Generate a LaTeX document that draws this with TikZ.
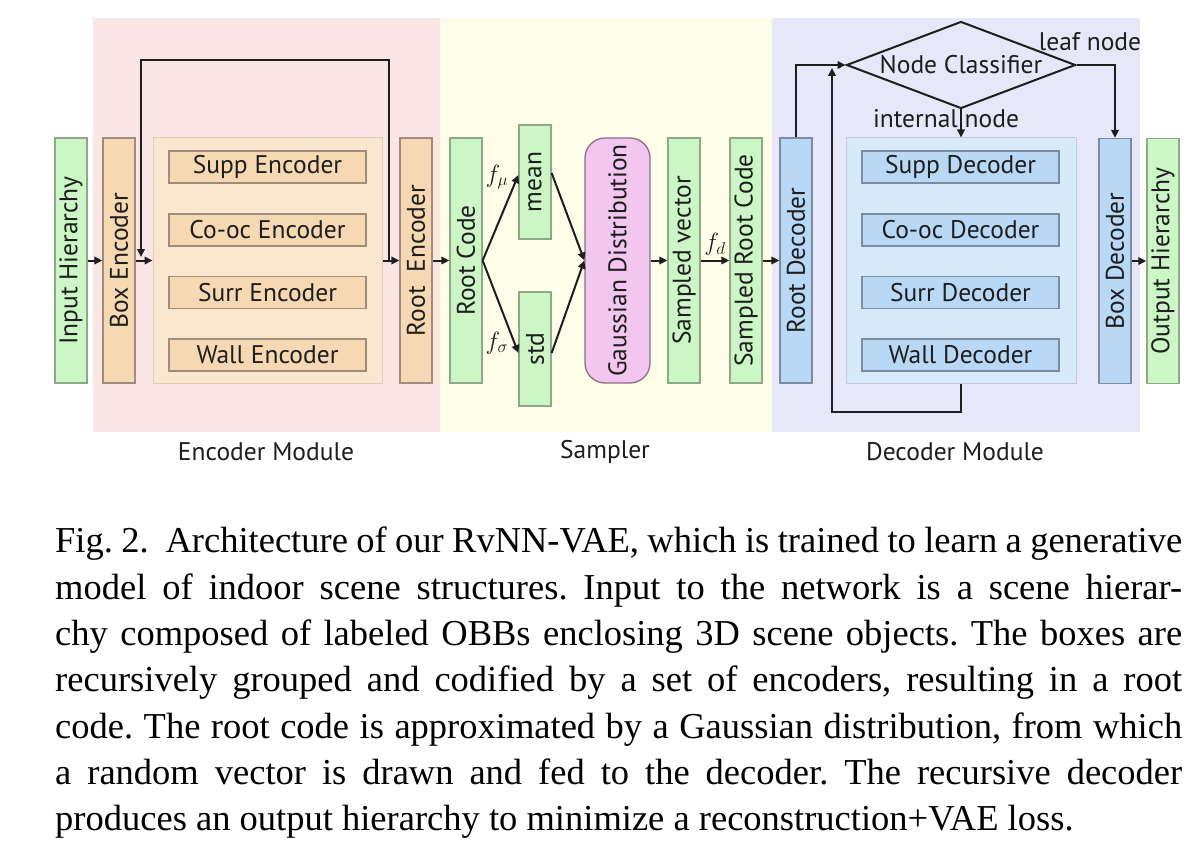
\documentclass[tikz,border=0pt]{standalone}
\usepackage{fontspec}
\setmainfont{Liberation Serif}
\newfontfamily\dfont{PT Sans}
\usetikzlibrary{shapes.geometric,arrows.meta}
\definecolor{bgenc}{HTML}{FBE6E6}
\definecolor{bgsam}{HTML}{FEFEE8}
\definecolor{bgdec}{HTML}{E6E7F8}
\definecolor{grn}{HTML}{CCF6C6}
\definecolor{grnd}{HTML}{8EA88A}
\definecolor{org}{HTML}{F6D8B2}
\definecolor{orgd}{HTML}{A08C7C}
\definecolor{peach}{HTML}{FBE6D0}
\definecolor{peachd}{HTML}{E2CDB8}
\definecolor{pnk}{HTML}{F2C6EF}
\definecolor{pnkd}{HTML}{8C6E8C}
\definecolor{blu}{HTML}{B8D8F6}
\definecolor{blud}{HTML}{7C8CA0}
\definecolor{lblu}{HTML}{D6EAFA}
\definecolor{lblud}{HTML}{C6C6E6}
\definecolor{ink}{HTML}{1E1E1E}
\begin{document}
\begin{tikzpicture}[x=1pt,y=-1pt,
  lbl/.style={font=\dfont\fontsize{25.5}{28}\selectfont, text=ink},
  blk/.style={draw=#1, line width=1.3pt, inner sep=0pt, lbl},
  vblk/.style={blk=#1, minimum width=32pt, minimum height=245pt},
  hblk/.style={blk=#1, minimum width=197pt, minimum height=32pt},
  arr/.style={-{Triangle[length=8pt,width=7.5pt]}, line width=2pt, draw=ink},
  mathlbl/.style={font=\fontsize{26}{28}\selectfont, text=ink}
]
\useasboundingbox (0,0) rectangle (1200,856);
\fill[white] (0,0) rectangle (1200,856);
% panels
\fill[bgenc] (93,18) rectangle (440,432);
\fill[bgsam] (440,18) rectangle (772,432);
\fill[bgdec] (772,18) rectangle (1140,432);
\node[lbl] (encm) at (266,452) {Encoder Module};
\node[lbl] (samm) at (605,452) {Sampler};
\node[lbl] (decm) at (955,452) {Decoder Module};
% encoder
\node[vblk=grnd, fill=grn] (inp) at (71,260.5) {\rotatebox{90}{Input Hierarchy}};
\node[vblk=orgd, fill=org] (boxenc) at (119,260.5) {\rotatebox{90}{Box Encoder}};
\node[blk=peachd, fill=peach, line width=1pt, minimum width=229pt, minimum height=245pt] (enccont) at (267.5,260.5) {};
\node[hblk=orgd, fill=org] (suppe) at (267.5,167) {Supp Encoder};
\node[hblk=orgd, fill=org] (cooce) at (267.5,230) {Co-oc Encoder};
\node[hblk=orgd, fill=org] (surre) at (267.5,292.5) {Surr Encoder};
\node[hblk=orgd, fill=org] (walle) at (267.5,355) {Wall Encoder};
\node[vblk=orgd, fill=org] (rootenc) at (416,260.5) {\rotatebox{90}{Root\ \ Encoder}};
% sampler
\node[vblk=grnd, fill=grn] (rootcode) at (466,260.5) {\rotatebox{90}{Root Code}};
\node[blk=grnd, fill=grn, minimum width=32pt, minimum height=114pt] (mean) at (535,182) {\rotatebox{90}{mean}};
\node[blk=grnd, fill=grn, minimum width=32pt, minimum height=114pt] (std) at (535,349) {\rotatebox{90}{std}};
\node[blk=pnkd, fill=pnk, rounded corners=20pt, minimum width=65pt, minimum height=245pt] (gauss) at (617.5,260.5) {\rotatebox{90}{Gaussian Distribution}};
\node[vblk=grnd, fill=grn] (sampvec) at (684,260.5) {\rotatebox{90}{Sampled vector}};
\node[vblk=grnd, fill=grn] (samproot) at (746,260.5) {\rotatebox{90}{Sampled Root Code}};
% decoder
\node[vblk=blud, fill=blu] (rootdec) at (796,260.5) {\rotatebox{90}{Root Decoder}};
\node[blk=lblud, fill=lblu, line width=1pt, minimum width=230pt, minimum height=245pt] (deccont) at (961,260.5) {};
\node[hblk=blud, fill=blu] (suppd) at (960.5,167) {Supp Decoder};
\node[hblk=blud, fill=blu] (coocd) at (960.5,230) {Co-oc Decoder};
\node[hblk=blud, fill=blu] (surrd) at (960.5,292.5) {Surr Decoder};
\node[hblk=blud, fill=blu] (walld) at (960.5,355) {Wall Decoder};
\node[vblk=blud, fill=blu] (boxdec) at (1115,261) {\rotatebox{90}{Box Decoder}};
\node[vblk=grnd, fill=grn] (outh) at (1163,261) {\rotatebox{90}{Output Hierarchy}};
\node[diamond, draw=ink, line width=2pt, inner sep=0pt, minimum width=229pt, minimum height=87pt, aspect=2.63, lbl] (diam) at (961,65) {Node Classifier};
\node[lbl] (leaf) at (1090,42) {leaf node};
\node[lbl] (intl) at (946,119) {internal node};
% connectors
\draw[arr] (inp.east) -- (boxenc.west);
\draw[arr] (boxenc.east) -- (enccont.west);
\draw[arr] (enccont.east) -- (rootenc.west);
\coordinate (encA) at (389,260.5);
\coordinate (encB) at (141,257);
\draw[arr] (encA) -- ++(0,-200) -| (encB);
\draw[arr] (rootenc.east) -- (rootcode.west);
\draw[arr] (rootcode.east) -- ([yshift=7pt]mean.west);
\draw[arr] (rootcode.east) -- ([yshift=-4pt]std.west);
\draw[arr] ([yshift=9pt]mean.east) -- (gauss.west);
\draw[arr] ([yshift=-4pt]std.east) -- (gauss.west);
\node[mathlbl] (fmu) at (497,177) {$f_\mu$};
\node[mathlbl] (fsig) at (497,343) {$f_\sigma$};
\draw[arr] (gauss.east) -- (sampvec.west);
\draw[arr] (sampvec.east) -- (samproot.west) node[midway, above=1pt, mathlbl] (fd) {$f_d$};
\draw[arr] (samproot.east) -- (rootdec.west);
\draw[arr] (rootdec.north) |- (diam.west);
\coordinate (dl) at (832,68);
\draw[arr] (deccont.south) -- ++(0,28) -| (dl);
\draw[arr] (diam.south) -- (deccont.north);
\draw[arr] (diam.east) -| (boxdec.north);
\draw[arr] (boxdec.east) -- (outh.west);
% caption
\node[anchor=north west, text width=1127pt, align=justify, inner sep=0pt,
  font=\fontsize{36.5}{46.3}\selectfont\frenchspacing] (cap) at (55,527)
{Fig. 2.\ \ Architecture of our RvNN-VAE, which is trained to learn a generative\linebreak
model of indoor scene structures. Input to the network is a scene hierar-\linebreak
chy composed of labeled OBBs enclosing 3D scene objects. The boxes are\linebreak
recursively grouped and codified by a set of encoders, resulting in a root\linebreak
code. The root code is approximated by a Gaussian distribution, from which\linebreak
a random vector is drawn and fed to the decoder. The recursive decoder\linebreak
produces an output hierarchy to minimize a reconstruction+VAE loss.};
\end{tikzpicture}
\end{document}
